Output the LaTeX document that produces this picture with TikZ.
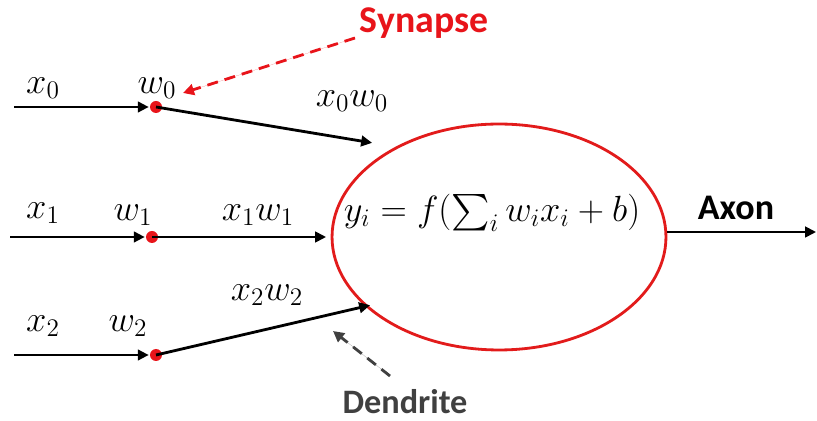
\documentclass[tikz,border=0pt]{standalone}
\usepackage{amsmath}
\usepackage{fontspec}
\setsansfont{Carlito}
\usetikzlibrary{arrows.meta,shapes.geometric}
\definecolor{somastroke}{HTML}{E21B1B}
\definecolor{synapsered}{HTML}{E8141A}
\definecolor{labelgray}{HTML}{404040}
\tikzset{
  soma/.style={
    ellipse,
    draw=somastroke,
    line width=1.6pt,
    minimum width=6.68cm,
    minimum height=4.52cm,
    inner sep=0pt
  },
  synapse/.style={
    circle,
    fill=synapsered,
    minimum size=0.24cm,
    inner sep=0pt
  },
  signal/.style={
    -{Triangle[length=2.2mm,width=2.1mm]},
    line width=1.6pt,
    shorten >=0.5pt
  },
  pointer/.style={
    -{Triangle[length=2.2mm,width=2.2mm]},
    line width=1.6pt,
    dash pattern=on 2.2mm off 1.4mm
  },
  mathlabel/.style={font=\fontsize{21.5}{25}\selectfont, inner sep=0pt},
  partlabel/.style={font=\sffamily\bfseries\fontsize{20.5}{24}\selectfont, inner sep=0pt}
}

\begin{document}
\begin{tikzpicture}[x=0.02cm,y=-0.02cm]
  \useasboundingbox (0,0) rectangle (817,421);

  \node[soma] (neuron) at (499,237) {};
  \node[mathlabel] (formula) at (492,213) {$y_i = f(\sum_i w_i x_i + b)$};

  % Inputs and synapses.
  \coordinate (in0) at (14,107);
  \coordinate (in1) at (10,237);
  \coordinate (in2) at (14,355);
  \node[synapse] (s0) at (156,107) {};
  \node[synapse] (s1) at (152,237) {};
  \node[synapse] (s2) at (156,355) {};
  \coordinate (d0) at (373,143);
  \coordinate (d1) at (327,237);
  \coordinate (d2) at (371,305);
  \coordinate (out) at (817,232);

  \draw[signal] (in0) -- (s0.west);
  \draw[signal] (in1) -- (s1.west);
  \draw[signal] (in2) -- (s2.west);
  \draw[signal] (s0.center) -- (d0);
  \draw[signal] (s1.center) -- (d1);
  \draw[signal] (s2.center) -- (d2);
  \draw[signal] (out -| neuron.east) -- (out);

  \node[mathlabel] (x0) at (43,88) {$x_0$};
  \node[mathlabel] (w0) at (157,88) {$w_0$};
  \node[mathlabel] (x0w0) at (352,101) {$x_0w_0$};
  \node[mathlabel] (x1) at (43,213) {$x_1$};
  \node[mathlabel] (w1) at (133,215) {$w_1$};
  \node[mathlabel] (x1w1) at (258,215) {$x_1w_1$};
  \node[mathlabel] (x2) at (43,326) {$x_2$};
  \node[mathlabel] (w2) at (128,326) {$w_2$};
  \node[mathlabel] (x2w2) at (267,295) {$x_2w_2$};

  % Part names.
  \node[partlabel,text=synapsered,font=\sffamily\bfseries\fontsize{21.5}{25}\selectfont]
    (synlabel) at (424,23) {Synapse};
  \node[partlabel] (axlabel) at (736,208) {Axon};
  \node[partlabel,text=labelgray,font=\sffamily\bfseries\fontsize{19.5}{23}\selectfont]
    (denlabel) at (405,402) {Dendrite};
  \coordinate (synfrom) at (355,38);
  \coordinate (denfrom) at (390,376);

  \draw[pointer,draw=synapsered,fill=synapsered] (synfrom) -- (183,93);
  \draw[pointer,draw=labelgray,fill=labelgray] (denfrom) -- (333,331);
\end{tikzpicture}
\end{document}
